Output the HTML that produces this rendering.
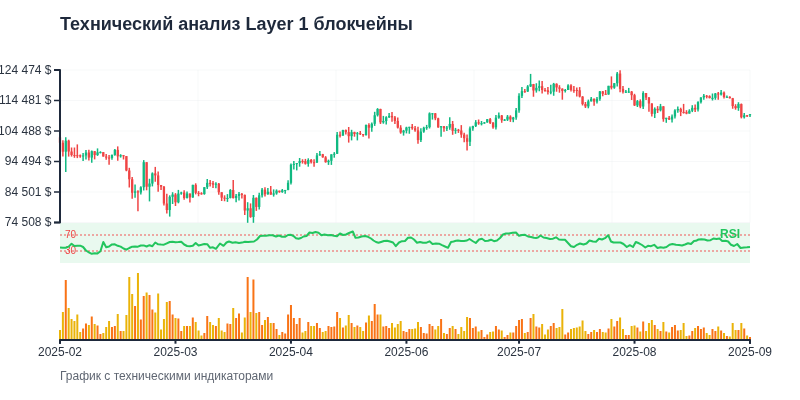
<!DOCTYPE html>
<html lang="ru">
<head>
<meta charset="utf-8">
<title>Технический анализ Layer 1 блокчейны</title>
<style>
html,body{margin:0;padding:0;background:#fff;}
body{width:800px;height:400px;overflow:hidden;font-family:"Liberation Sans",sans-serif;}
svg{display:block;}
text{font-family:"Liberation Sans",sans-serif;}
.title{font-size:18px;font-weight:700;fill:#1e293b;}
.cap{font-size:12px;fill:#5f6672;}
.ax text{font-size:12px;fill:#2a3340;}
.grid line{stroke:#e5e7eb;stroke-opacity:.3;stroke-width:1;}
.dom{fill:none;stroke:#1e293b;stroke-width:2;stroke-linejoin:round;}
.tk{stroke:#1e293b;stroke-width:1.5;}
.tx{stroke:#1e293b;stroke-width:2;}
.g line{stroke:#10b981;} .g rect{fill:#10b981;}
.r line{stroke:#ef4444;} .r rect{fill:#ef4444;}
.o{fill:#f97316;}
.y{fill:#eab308;}
.lvl{stroke:#ef4444;stroke-width:1.5;stroke-dasharray:2 2;opacity:.6;}
.lvt{font-size:10px;fill:#ef4444;}
.rsi{fill:none;stroke:#22c55e;stroke-width:2;stroke-linejoin:round;stroke-linecap:butt;}
.rsil{font-size:12px;font-weight:700;fill:#22c55e;}
</style>
</head>
<body>
<svg width="800" height="400" viewBox="0 0 800 400">
<rect width="800" height="400" fill="#ffffff"/>
<text class="title" x="60" y="30">Технический анализ Layer 1 блокчейны</text>
<g class="grid">
<line x1="60" x2="750" y1="70" y2="70"/>
<line x1="60" x2="750" y1="100.5" y2="100.5"/>
<line x1="60" x2="750" y1="131" y2="131"/>
<line x1="60" x2="750" y1="161.5" y2="161.5"/>
<line x1="60" x2="750" y1="192" y2="192"/>
<line x1="60" x2="750" y1="222.5" y2="222.5"/>
<line x1="60" x2="60" y1="70" y2="222.5"/>
<line x1="198" x2="198" y1="70" y2="222.5"/>
<line x1="336" x2="336" y1="70" y2="222.5"/>
<line x1="474" x2="474" y1="70" y2="222.5"/>
<line x1="612" x2="612" y1="70" y2="222.5"/>
<line x1="750" x2="750" y1="70" y2="222.5"/>
</g>
<rect x="60" y="223" width="690" height="40" fill="#e9f9ef"/>
<g class="candles">
<g class="r"><line x1="60" x2="60" y1="137.28" y2="143" stroke-width="1.5"/><rect x="58.85" y="137.28" width="2.3" height="5.48"/></g>
<g class="r"><line x1="62.89" x2="62.89" y1="140.3" y2="156.6" stroke-width="1.5"/><rect x="61.74" y="142.76" width="2.3" height="8.96"/></g>
<g class="g"><line x1="65.77" x2="65.77" y1="137.2" y2="171.9" stroke-width="1.5"/><rect x="64.62" y="140.64" width="2.3" height="11.08"/></g>
<g class="r"><line x1="68.66" x2="68.66" y1="139.7" y2="156.6" stroke-width="1.5"/><rect x="67.51" y="140.64" width="2.3" height="10.88"/></g>
<g class="r"><line x1="71.55" x2="71.55" y1="147.5" y2="156.6" stroke-width="1.5"/><rect x="70.4" y="151.52" width="2.3" height="3.52"/></g>
<g class="r"><line x1="74.44" x2="74.44" y1="147.5" y2="157.8" stroke-width="1.5"/><rect x="73.29" y="155.04" width="2.3" height="1"/></g>
<g class="r"><line x1="77.32" x2="77.32" y1="144.4" y2="158.1" stroke-width="1.5"/><rect x="76.17" y="155.21" width="2.3" height="1"/></g>
<g class="r"><line x1="80.21" x2="80.21" y1="154.4" y2="157.8" stroke-width="1.5"/><rect x="79.06" y="155.36" width="2.3" height="1"/></g>
<g class="g"><line x1="83.1" x2="83.1" y1="153.1" y2="160.9" stroke-width="1.5"/><rect x="81.95" y="155.49" width="2.3" height="1"/></g>
<g class="g"><line x1="85.98" x2="85.98" y1="150" y2="159.4" stroke-width="1.5"/><rect x="84.83" y="152.54" width="2.3" height="2.95"/></g>
<g class="r"><line x1="88.87" x2="88.87" y1="149.7" y2="160.6" stroke-width="1.5"/><rect x="87.72" y="152.54" width="2.3" height="5.04"/></g>
<g class="g"><line x1="91.76" x2="91.76" y1="150.6" y2="162.8" stroke-width="1.5"/><rect x="90.61" y="151.2" width="2.3" height="6.38"/></g>
<g class="r"><line x1="94.64" x2="94.64" y1="151" y2="159.4" stroke-width="1.5"/><rect x="93.49" y="151.2" width="2.3" height="3.85"/></g>
<g class="g"><line x1="97.53" x2="97.53" y1="148.4" y2="155.9" stroke-width="1.5"/><rect x="96.38" y="152.33" width="2.3" height="2.72"/></g>
<g class="g"><line x1="100.42" x2="100.42" y1="151.25" y2="153.4" stroke-width="1.5"/><rect x="99.27" y="152.12" width="2.3" height="1"/></g>
<g class="r"><line x1="103.31" x2="103.31" y1="152.12" y2="156.6" stroke-width="1.5"/><rect x="102.16" y="152.12" width="2.3" height="4.42"/></g>
<g class="r"><line x1="106.19" x2="106.19" y1="154.1" y2="159.7" stroke-width="1.5"/><rect x="105.04" y="156.54" width="2.3" height="1.04"/></g>
<g class="r"><line x1="109.08" x2="109.08" y1="155.1" y2="164.75" stroke-width="1.5"/><rect x="107.93" y="157.58" width="2.3" height="1"/></g>
<g class="g"><line x1="111.97" x2="111.97" y1="154.5" y2="159.8" stroke-width="1.5"/><rect x="110.82" y="154.94" width="2.3" height="2.97"/></g>
<g class="g"><line x1="114.85" x2="114.85" y1="148.9" y2="155.75" stroke-width="1.5"/><rect x="113.7" y="149.87" width="2.3" height="5.07"/></g>
<g class="r"><line x1="117.74" x2="117.74" y1="146.4" y2="160.75" stroke-width="1.5"/><rect x="116.59" y="149.87" width="2.3" height="6.48"/></g>
<g class="g"><line x1="120.63" x2="120.63" y1="154.2" y2="157.6" stroke-width="1.5"/><rect x="119.48" y="155.22" width="2.3" height="1.13"/></g>
<g class="r"><line x1="123.51" x2="123.51" y1="155.1" y2="159.5" stroke-width="1.5"/><rect x="122.36" y="155.22" width="2.3" height="1"/></g>
<g class="r"><line x1="126.4" x2="126.4" y1="156.1" y2="171.25" stroke-width="1.5"/><rect x="125.25" y="156.12" width="2.3" height="14.36"/></g>
<g class="r"><line x1="129.29" x2="129.29" y1="167.8" y2="187.5" stroke-width="1.5"/><rect x="128.14" y="170.48" width="2.3" height="8.77"/></g>
<g class="r"><line x1="132.18" x2="132.18" y1="176.9" y2="198.75" stroke-width="1.5"/><rect x="131.03" y="179.25" width="2.3" height="13.52"/></g>
<g class="g"><line x1="135.06" x2="135.06" y1="184.4" y2="197.8" stroke-width="1.5"/><rect x="133.91" y="191.37" width="2.3" height="1.4"/></g>
<g class="r"><line x1="137.95" x2="137.95" y1="190.3" y2="211.25" stroke-width="1.5"/><rect x="136.8" y="191.37" width="2.3" height="1.09"/></g>
<g class="g"><line x1="140.84" x2="140.84" y1="186.25" y2="194.4" stroke-width="1.5"/><rect x="139.69" y="187.23" width="2.3" height="5.23"/></g>
<g class="g"><line x1="143.72" x2="143.72" y1="160.1" y2="190.5" stroke-width="1.5"/><rect x="142.57" y="162.18" width="2.3" height="25.05"/></g>
<g class="r"><line x1="146.61" x2="146.61" y1="162.18" y2="190.3" stroke-width="1.5"/><rect x="145.46" y="162.18" width="2.3" height="24.57"/></g>
<g class="g"><line x1="149.5" x2="149.5" y1="178.75" y2="201.4" stroke-width="1.5"/><rect x="148.35" y="183.52" width="2.3" height="3.23"/></g>
<g class="g"><line x1="152.38" x2="152.38" y1="172.4" y2="186.4" stroke-width="1.5"/><rect x="151.23" y="173.37" width="2.3" height="10.15"/></g>
<g class="r"><line x1="155.27" x2="155.27" y1="166.9" y2="181.75" stroke-width="1.5"/><rect x="154.12" y="173.37" width="2.3" height="2.06"/></g>
<g class="r"><line x1="158.16" x2="158.16" y1="171.4" y2="191.75" stroke-width="1.5"/><rect x="157.01" y="175.43" width="2.3" height="9.55"/></g>
<g class="r"><line x1="161.05" x2="161.05" y1="184.98" y2="189.9" stroke-width="1.5"/><rect x="159.9" y="184.98" width="2.3" height="1.77"/></g>
<g class="r"><line x1="163.93" x2="163.93" y1="186.1" y2="205.6" stroke-width="1.5"/><rect x="162.78" y="186.75" width="2.3" height="16.75"/></g>
<g class="r"><line x1="166.82" x2="166.82" y1="193.75" y2="213.5" stroke-width="1.5"/><rect x="165.67" y="203.5" width="2.3" height="6.53"/></g>
<g class="g"><line x1="169.71" x2="169.71" y1="195.3" y2="216.6" stroke-width="1.5"/><rect x="168.56" y="196.79" width="2.3" height="13.24"/></g>
<g class="g"><line x1="172.59" x2="172.59" y1="192.2" y2="204" stroke-width="1.5"/><rect x="171.44" y="194.51" width="2.3" height="2.28"/></g>
<g class="r"><line x1="175.48" x2="175.48" y1="193.1" y2="206" stroke-width="1.5"/><rect x="174.33" y="194.51" width="2.3" height="7.82"/></g>
<g class="g"><line x1="178.37" x2="178.37" y1="189.9" y2="203.3" stroke-width="1.5"/><rect x="177.22" y="193.58" width="2.3" height="8.75"/></g>
<g class="g"><line x1="181.26" x2="181.26" y1="191.75" y2="194.7" stroke-width="1.5"/><rect x="180.11" y="192.5" width="2.3" height="1.08"/></g>
<g class="r"><line x1="184.14" x2="184.14" y1="190.2" y2="199.7" stroke-width="1.5"/><rect x="182.99" y="192.5" width="2.3" height="5.46"/></g>
<g class="g"><line x1="187.03" x2="187.03" y1="191.5" y2="198.4" stroke-width="1.5"/><rect x="185.88" y="193.5" width="2.3" height="4.46"/></g>
<g class="r"><line x1="189.92" x2="189.92" y1="193.5" y2="202.5" stroke-width="1.5"/><rect x="188.77" y="193.5" width="2.3" height="3.95"/></g>
<g class="g"><line x1="192.8" x2="192.8" y1="184.85" y2="197.8" stroke-width="1.5"/><rect x="191.65" y="184.85" width="2.3" height="12.6"/></g>
<g class="r"><line x1="195.69" x2="195.69" y1="183.3" y2="194.4" stroke-width="1.5"/><rect x="194.54" y="184.85" width="2.3" height="8"/></g>
<g class="r"><line x1="198.58" x2="198.58" y1="191.1" y2="196.25" stroke-width="1.5"/><rect x="197.43" y="192.85" width="2.3" height="1"/></g>
<g class="r"><line x1="201.46" x2="201.46" y1="192.2" y2="194.75" stroke-width="1.5"/><rect x="200.31" y="193.26" width="2.3" height="1"/></g>
<g class="g"><line x1="204.35" x2="204.35" y1="187.18" y2="194.75" stroke-width="1.5"/><rect x="203.2" y="187.18" width="2.3" height="6.84"/></g>
<g class="g"><line x1="207.24" x2="207.24" y1="179.1" y2="189.1" stroke-width="1.5"/><rect x="206.09" y="182.85" width="2.3" height="4.33"/></g>
<g class="r"><line x1="210.13" x2="210.13" y1="180" y2="186.6" stroke-width="1.5"/><rect x="208.98" y="182.85" width="2.3" height="1"/></g>
<g class="r"><line x1="213.01" x2="213.01" y1="181" y2="187.9" stroke-width="1.5"/><rect x="211.86" y="183.18" width="2.3" height="1.47"/></g>
<g class="g"><line x1="215.9" x2="215.9" y1="182.25" y2="188.2" stroke-width="1.5"/><rect x="214.75" y="183.67" width="2.3" height="1"/></g>
<g class="r"><line x1="218.79" x2="218.79" y1="182.9" y2="194.75" stroke-width="1.5"/><rect x="217.64" y="183.67" width="2.3" height="8.57"/></g>
<g class="r"><line x1="221.67" x2="221.67" y1="192.2" y2="201" stroke-width="1.5"/><rect x="220.52" y="192.24" width="2.3" height="5.42"/></g>
<g class="r"><line x1="224.56" x2="224.56" y1="195.3" y2="201.25" stroke-width="1.5"/><rect x="223.41" y="197.66" width="2.3" height="1"/></g>
<g class="g"><line x1="227.45" x2="227.45" y1="194.1" y2="201.9" stroke-width="1.5"/><rect x="226.3" y="197.96" width="2.3" height="1"/></g>
<g class="g"><line x1="230.33" x2="230.33" y1="189.1" y2="198.4" stroke-width="1.5"/><rect x="229.18" y="190" width="2.3" height="7.96"/></g>
<g class="r"><line x1="233.22" x2="233.22" y1="180" y2="198.4" stroke-width="1.5"/><rect x="232.07" y="190" width="2.3" height="8.06"/></g>
<g class="g"><line x1="236.11" x2="236.11" y1="194.1" y2="202.2" stroke-width="1.5"/><rect x="234.96" y="195.93" width="2.3" height="2.13"/></g>
<g class="g"><line x1="239" x2="239" y1="191.9" y2="200.6" stroke-width="1.5"/><rect x="237.85" y="193.87" width="2.3" height="2.06"/></g>
<g class="r"><line x1="241.88" x2="241.88" y1="193.1" y2="198.4" stroke-width="1.5"/><rect x="240.73" y="193.87" width="2.3" height="1.07"/></g>
<g class="r"><line x1="244.77" x2="244.77" y1="194.4" y2="215" stroke-width="1.5"/><rect x="243.62" y="194.94" width="2.3" height="15.59"/></g>
<g class="g"><line x1="247.66" x2="247.66" y1="202.2" y2="222.8" stroke-width="1.5"/><rect x="246.51" y="208.29" width="2.3" height="2.24"/></g>
<g class="r"><line x1="250.54" x2="250.54" y1="203.4" y2="217.8" stroke-width="1.5"/><rect x="249.39" y="208.29" width="2.3" height="8.67"/></g>
<g class="g"><line x1="253.43" x2="253.43" y1="195" y2="222.8" stroke-width="1.5"/><rect x="252.28" y="197.76" width="2.3" height="19.2"/></g>
<g class="r"><line x1="256.32" x2="256.32" y1="197.5" y2="210.9" stroke-width="1.5"/><rect x="255.17" y="197.76" width="2.3" height="9.18"/></g>
<g class="g"><line x1="259.21" x2="259.21" y1="192.8" y2="209.4" stroke-width="1.5"/><rect x="258.06" y="195.29" width="2.3" height="11.65"/></g>
<g class="g"><line x1="262.09" x2="262.09" y1="188.1" y2="197.5" stroke-width="1.5"/><rect x="260.94" y="189.64" width="2.3" height="5.65"/></g>
<g class="r"><line x1="264.98" x2="264.98" y1="187.2" y2="196.6" stroke-width="1.5"/><rect x="263.83" y="189.64" width="2.3" height="4.62"/></g>
<g class="g"><line x1="267.87" x2="267.87" y1="188.1" y2="194.7" stroke-width="1.5"/><rect x="266.72" y="191.73" width="2.3" height="2.53"/></g>
<g class="r"><line x1="270.75" x2="270.75" y1="185.9" y2="194.7" stroke-width="1.5"/><rect x="269.6" y="191.73" width="2.3" height="2.89"/></g>
<g class="g"><line x1="273.64" x2="273.64" y1="189.4" y2="196.6" stroke-width="1.5"/><rect x="272.49" y="193.44" width="2.3" height="1.18"/></g>
<g class="g"><line x1="276.53" x2="276.53" y1="189.4" y2="194.7" stroke-width="1.5"/><rect x="275.38" y="190.64" width="2.3" height="2.8"/></g>
<g class="r"><line x1="279.41" x2="279.41" y1="190.6" y2="192.8" stroke-width="1.5"/><rect x="278.26" y="190.64" width="2.3" height="1.44"/></g>
<g class="g"><line x1="282.3" x2="282.3" y1="189" y2="192.8" stroke-width="1.5"/><rect x="281.15" y="190.24" width="2.3" height="1.84"/></g>
<g class="g"><line x1="285.19" x2="285.19" y1="189.93" y2="193.75" stroke-width="1.5"/><rect x="284.04" y="189.93" width="2.3" height="1"/></g>
<g class="g"><line x1="288.08" x2="288.08" y1="180.3" y2="190.3" stroke-width="1.5"/><rect x="286.93" y="182.8" width="2.3" height="7.13"/></g>
<g class="g"><line x1="290.96" x2="290.96" y1="163.6" y2="184.4" stroke-width="1.5"/><rect x="289.81" y="164.71" width="2.3" height="18.09"/></g>
<g class="g"><line x1="293.85" x2="293.85" y1="161.1" y2="169.5" stroke-width="1.5"/><rect x="292.7" y="163.95" width="2.3" height="1"/></g>
<g class="g"><line x1="296.74" x2="296.74" y1="163" y2="170.4" stroke-width="1.5"/><rect x="295.59" y="163.07" width="2.3" height="1"/></g>
<g class="g"><line x1="299.62" x2="299.62" y1="158" y2="166.7" stroke-width="1.5"/><rect x="298.47" y="161.06" width="2.3" height="2.01"/></g>
<g class="r"><line x1="302.51" x2="302.51" y1="159.25" y2="163.6" stroke-width="1.5"/><rect x="301.36" y="161.06" width="2.3" height="1"/></g>
<g class="r"><line x1="305.4" x2="305.4" y1="158.9" y2="164.6" stroke-width="1.5"/><rect x="304.25" y="161.09" width="2.3" height="2.69"/></g>
<g class="g"><line x1="308.28" x2="308.28" y1="158.3" y2="166.7" stroke-width="1.5"/><rect x="307.13" y="159.92" width="2.3" height="3.86"/></g>
<g class="r"><line x1="311.17" x2="311.17" y1="158.9" y2="163.6" stroke-width="1.5"/><rect x="310.02" y="159.92" width="2.3" height="2.31"/></g>
<g class="r"><line x1="314.06" x2="314.06" y1="159.25" y2="166.7" stroke-width="1.5"/><rect x="312.91" y="162.23" width="2.3" height="1"/></g>
<g class="g"><line x1="316.95" x2="316.95" y1="153" y2="163" stroke-width="1.5"/><rect x="315.8" y="155.41" width="2.3" height="7.07"/></g>
<g class="g"><line x1="319.83" x2="319.83" y1="151.1" y2="155.8" stroke-width="1.5"/><rect x="318.68" y="154.2" width="2.3" height="1.21"/></g>
<g class="r"><line x1="322.72" x2="322.72" y1="153.9" y2="157.7" stroke-width="1.5"/><rect x="321.57" y="154.2" width="2.3" height="3.14"/></g>
<g class="r"><line x1="325.61" x2="325.61" y1="156.1" y2="162.7" stroke-width="1.5"/><rect x="324.46" y="157.34" width="2.3" height="4.82"/></g>
<g class="g"><line x1="328.49" x2="328.49" y1="159.6" y2="164.9" stroke-width="1.5"/><rect x="327.34" y="160.77" width="2.3" height="1.39"/></g>
<g class="g"><line x1="331.38" x2="331.38" y1="154.25" y2="164.9" stroke-width="1.5"/><rect x="330.23" y="154.36" width="2.3" height="6.41"/></g>
<g class="g"><line x1="334.27" x2="334.27" y1="152.1" y2="157.7" stroke-width="1.5"/><rect x="333.12" y="153.76" width="2.3" height="1"/></g>
<g class="g"><line x1="337.15" x2="337.15" y1="132" y2="153.9" stroke-width="1.5"/><rect x="336" y="134.74" width="2.3" height="19.02"/></g>
<g class="r"><line x1="340.04" x2="340.04" y1="131.4" y2="137.6" stroke-width="1.5"/><rect x="338.89" y="134.74" width="2.3" height="1"/></g>
<g class="g"><line x1="342.93" x2="342.93" y1="129.8" y2="135.75" stroke-width="1.5"/><rect x="341.78" y="130.02" width="2.3" height="5.61"/></g>
<g class="r"><line x1="345.82" x2="345.82" y1="129.5" y2="134.5" stroke-width="1.5"/><rect x="344.67" y="130.02" width="2.3" height="2.11"/></g>
<g class="r"><line x1="348.7" x2="348.7" y1="127" y2="142.6" stroke-width="1.5"/><rect x="347.55" y="132.13" width="2.3" height="4.05"/></g>
<g class="g"><line x1="351.59" x2="351.59" y1="129.8" y2="140.4" stroke-width="1.5"/><rect x="350.44" y="132.17" width="2.3" height="4.01"/></g>
<g class="r"><line x1="354.48" x2="354.48" y1="131.7" y2="136.7" stroke-width="1.5"/><rect x="353.33" y="132.17" width="2.3" height="1.82"/></g>
<g class="g"><line x1="357.36" x2="357.36" y1="132" y2="140.4" stroke-width="1.5"/><rect x="356.21" y="133.21" width="2.3" height="1"/></g>
<g class="r"><line x1="360.25" x2="360.25" y1="131" y2="135.1" stroke-width="1.5"/><rect x="359.1" y="133.21" width="2.3" height="1"/></g>
<g class="r"><line x1="363.14" x2="363.14" y1="133.9" y2="136.7" stroke-width="1.5"/><rect x="361.99" y="134.13" width="2.3" height="1.03"/></g>
<g class="g"><line x1="366.03" x2="366.03" y1="124.5" y2="135.4" stroke-width="1.5"/><rect x="364.88" y="125" width="2.3" height="10.16"/></g>
<g class="r"><line x1="368.91" x2="368.91" y1="123.2" y2="138.6" stroke-width="1.5"/><rect x="367.76" y="125" width="2.3" height="2.69"/></g>
<g class="g"><line x1="371.8" x2="371.8" y1="122.4" y2="131.7" stroke-width="1.5"/><rect x="370.65" y="123.79" width="2.3" height="3.9"/></g>
<g class="g"><line x1="374.69" x2="374.69" y1="111.8" y2="125.9" stroke-width="1.5"/><rect x="373.54" y="115.27" width="2.3" height="8.52"/></g>
<g class="g"><line x1="377.57" x2="377.57" y1="108.1" y2="116.5" stroke-width="1.5"/><rect x="376.42" y="109" width="2.3" height="6.27"/></g>
<g class="r"><line x1="380.46" x2="380.46" y1="108.7" y2="124" stroke-width="1.5"/><rect x="379.31" y="109" width="2.3" height="13.36"/></g>
<g class="g"><line x1="383.35" x2="383.35" y1="115.9" y2="123.7" stroke-width="1.5"/><rect x="382.2" y="121.01" width="2.3" height="1.35"/></g>
<g class="g"><line x1="386.23" x2="386.23" y1="116.2" y2="124.6" stroke-width="1.5"/><rect x="385.08" y="117.22" width="2.3" height="3.79"/></g>
<g class="g"><line x1="389.12" x2="389.12" y1="113.1" y2="118.1" stroke-width="1.5"/><rect x="387.97" y="115.9" width="2.3" height="1.32"/></g>
<g class="r"><line x1="392.01" x2="392.01" y1="112.1" y2="121.8" stroke-width="1.5"/><rect x="390.86" y="115.9" width="2.3" height="1.52"/></g>
<g class="r"><line x1="394.9" x2="394.9" y1="116.1" y2="123.9" stroke-width="1.5"/><rect x="393.75" y="117.42" width="2.3" height="3.53"/></g>
<g class="r"><line x1="397.78" x2="397.78" y1="117.4" y2="128.5" stroke-width="1.5"/><rect x="396.63" y="120.95" width="2.3" height="6.69"/></g>
<g class="r"><line x1="400.67" x2="400.67" y1="125.2" y2="133.75" stroke-width="1.5"/><rect x="399.52" y="127.64" width="2.3" height="4.89"/></g>
<g class="g"><line x1="403.56" x2="403.56" y1="129.9" y2="135.6" stroke-width="1.5"/><rect x="402.41" y="130.68" width="2.3" height="1.85"/></g>
<g class="g"><line x1="406.44" x2="406.44" y1="126.75" y2="133.4" stroke-width="1.5"/><rect x="405.29" y="127.48" width="2.3" height="3.2"/></g>
<g class="g"><line x1="409.33" x2="409.33" y1="126.75" y2="133.75" stroke-width="1.5"/><rect x="408.18" y="126.82" width="2.3" height="1"/></g>
<g class="r"><line x1="412.22" x2="412.22" y1="123.9" y2="129.8" stroke-width="1.5"/><rect x="411.07" y="126.82" width="2.3" height="1.47"/></g>
<g class="r"><line x1="415.1" x2="415.1" y1="126.1" y2="131.8" stroke-width="1.5"/><rect x="413.95" y="128.29" width="2.3" height="2.07"/></g>
<g class="r"><line x1="417.99" x2="417.99" y1="126.8" y2="143.75" stroke-width="1.5"/><rect x="416.84" y="130.36" width="2.3" height="9.73"/></g>
<g class="g"><line x1="420.88" x2="420.88" y1="128.2" y2="141.9" stroke-width="1.5"/><rect x="419.73" y="131.61" width="2.3" height="8.48"/></g>
<g class="g"><line x1="423.77" x2="423.77" y1="126.8" y2="132.8" stroke-width="1.5"/><rect x="422.62" y="127.75" width="2.3" height="3.86"/></g>
<g class="g"><line x1="426.65" x2="426.65" y1="124.9" y2="129.8" stroke-width="1.5"/><rect x="425.5" y="127.2" width="2.3" height="1"/></g>
<g class="g"><line x1="429.54" x2="429.54" y1="112.4" y2="128.5" stroke-width="1.5"/><rect x="428.39" y="113.37" width="2.3" height="13.83"/></g>
<g class="g"><line x1="432.43" x2="432.43" y1="113" y2="119.6" stroke-width="1.5"/><rect x="431.28" y="113.34" width="2.3" height="1"/></g>
<g class="r"><line x1="435.31" x2="435.31" y1="113" y2="120.2" stroke-width="1.5"/><rect x="434.16" y="113.34" width="2.3" height="4.97"/></g>
<g class="r"><line x1="438.2" x2="438.2" y1="117.8" y2="127.8" stroke-width="1.5"/><rect x="437.05" y="118.31" width="2.3" height="9.08"/></g>
<g class="g"><line x1="441.09" x2="441.09" y1="125.9" y2="136.7" stroke-width="1.5"/><rect x="439.94" y="126.18" width="2.3" height="1.21"/></g>
<g class="r"><line x1="443.97" x2="443.97" y1="126" y2="131.7" stroke-width="1.5"/><rect x="442.82" y="126.18" width="2.3" height="1.99"/></g>
<g class="g"><line x1="446.86" x2="446.86" y1="126" y2="131" stroke-width="1.5"/><rect x="445.71" y="127.62" width="2.3" height="1"/></g>
<g class="g"><line x1="449.75" x2="449.75" y1="117.3" y2="129.8" stroke-width="1.5"/><rect x="448.6" y="123.96" width="2.3" height="3.66"/></g>
<g class="r"><line x1="452.64" x2="452.64" y1="121" y2="134.8" stroke-width="1.5"/><rect x="451.49" y="123.96" width="2.3" height="6.85"/></g>
<g class="g"><line x1="455.52" x2="455.52" y1="127.9" y2="133.8" stroke-width="1.5"/><rect x="454.37" y="129.78" width="2.3" height="1.03"/></g>
<g class="r"><line x1="458.41" x2="458.41" y1="128.9" y2="132.9" stroke-width="1.5"/><rect x="457.26" y="129.78" width="2.3" height="1"/></g>
<g class="r"><line x1="461.3" x2="461.3" y1="125.1" y2="137.8" stroke-width="1.5"/><rect x="460.15" y="130.48" width="2.3" height="4.15"/></g>
<g class="r"><line x1="464.18" x2="464.18" y1="132.7" y2="142.2" stroke-width="1.5"/><rect x="463.03" y="134.63" width="2.3" height="3.6"/></g>
<g class="r"><line x1="467.07" x2="467.07" y1="134.4" y2="150.6" stroke-width="1.5"/><rect x="465.92" y="138.23" width="2.3" height="3.53"/></g>
<g class="g"><line x1="469.96" x2="469.96" y1="126.4" y2="145.9" stroke-width="1.5"/><rect x="468.81" y="128.42" width="2.3" height="13.34"/></g>
<g class="g"><line x1="472.85" x2="472.85" y1="125.75" y2="130.75" stroke-width="1.5"/><rect x="471.7" y="126.13" width="2.3" height="2.29"/></g>
<g class="g"><line x1="475.73" x2="475.73" y1="120.1" y2="127" stroke-width="1.5"/><rect x="474.58" y="122.29" width="2.3" height="3.84"/></g>
<g class="r"><line x1="478.62" x2="478.62" y1="119.5" y2="124.8" stroke-width="1.5"/><rect x="477.47" y="122.29" width="2.3" height="1.2"/></g>
<g class="g"><line x1="481.51" x2="481.51" y1="121" y2="125.4" stroke-width="1.5"/><rect x="480.36" y="123.19" width="2.3" height="1"/></g>
<g class="g"><line x1="484.39" x2="484.39" y1="122" y2="123.8" stroke-width="1.5"/><rect x="483.24" y="122.43" width="2.3" height="1"/></g>
<g class="g"><line x1="487.28" x2="487.28" y1="119" y2="122.7" stroke-width="1.5"/><rect x="486.13" y="119.19" width="2.3" height="3.24"/></g>
<g class="r"><line x1="490.17" x2="490.17" y1="118.1" y2="124" stroke-width="1.5"/><rect x="489.02" y="119.19" width="2.3" height="3.7"/></g>
<g class="r"><line x1="493.05" x2="493.05" y1="121.9" y2="128.75" stroke-width="1.5"/><rect x="491.9" y="122.89" width="2.3" height="4.47"/></g>
<g class="g"><line x1="495.94" x2="495.94" y1="115" y2="129.4" stroke-width="1.5"/><rect x="494.79" y="117.69" width="2.3" height="9.67"/></g>
<g class="g"><line x1="498.83" x2="498.83" y1="112.5" y2="118.75" stroke-width="1.5"/><rect x="497.68" y="115.45" width="2.3" height="2.24"/></g>
<g class="r"><line x1="501.72" x2="501.72" y1="115" y2="122.8" stroke-width="1.5"/><rect x="500.57" y="115.45" width="2.3" height="4.88"/></g>
<g class="g"><line x1="504.6" x2="504.6" y1="119" y2="121" stroke-width="1.5"/><rect x="503.45" y="119.68" width="2.3" height="1"/></g>
<g class="g"><line x1="507.49" x2="507.49" y1="115" y2="121" stroke-width="1.5"/><rect x="506.34" y="116.61" width="2.3" height="3.07"/></g>
<g class="r"><line x1="510.38" x2="510.38" y1="115.3" y2="121.9" stroke-width="1.5"/><rect x="509.23" y="116.61" width="2.3" height="2.87"/></g>
<g class="g"><line x1="513.26" x2="513.26" y1="116.9" y2="122.2" stroke-width="1.5"/><rect x="512.11" y="117.47" width="2.3" height="2.01"/></g>
<g class="g"><line x1="516.15" x2="516.15" y1="108.1" y2="119.7" stroke-width="1.5"/><rect x="515" y="110.41" width="2.3" height="7.06"/></g>
<g class="g"><line x1="519.04" x2="519.04" y1="93.3" y2="112.8" stroke-width="1.5"/><rect x="517.89" y="95.83" width="2.3" height="14.58"/></g>
<g class="g"><line x1="521.92" x2="521.92" y1="87" y2="98" stroke-width="1.5"/><rect x="520.77" y="91.2" width="2.3" height="4.63"/></g>
<g class="r"><line x1="524.81" x2="524.81" y1="88.9" y2="92.8" stroke-width="1.5"/><rect x="523.66" y="91.2" width="2.3" height="1"/></g>
<g class="g"><line x1="527.7" x2="527.7" y1="85.1" y2="91.9" stroke-width="1.5"/><rect x="526.55" y="86.44" width="2.3" height="5.09"/></g>
<g class="g"><line x1="530.59" x2="530.59" y1="73.9" y2="87" stroke-width="1.5"/><rect x="529.44" y="84.14" width="2.3" height="2.3"/></g>
<g class="r"><line x1="533.47" x2="533.47" y1="83.9" y2="96.75" stroke-width="1.5"/><rect x="532.32" y="84.14" width="2.3" height="6.36"/></g>
<g class="g"><line x1="536.36" x2="536.36" y1="83.25" y2="92.6" stroke-width="1.5"/><rect x="535.21" y="87.84" width="2.3" height="2.66"/></g>
<g class="g"><line x1="539.25" x2="539.25" y1="80.4" y2="91.2" stroke-width="1.5"/><rect x="538.1" y="86.17" width="2.3" height="1.67"/></g>
<g class="r"><line x1="542.13" x2="542.13" y1="81" y2="93.6" stroke-width="1.5"/><rect x="540.98" y="86.17" width="2.3" height="3.82"/></g>
<g class="r"><line x1="545.02" x2="545.02" y1="87.9" y2="91.7" stroke-width="1.5"/><rect x="543.87" y="89.99" width="2.3" height="1"/></g>
<g class="r"><line x1="547.91" x2="547.91" y1="87" y2="94.5" stroke-width="1.5"/><rect x="546.76" y="90.25" width="2.3" height="1.75"/></g>
<g class="g"><line x1="550.79" x2="550.79" y1="84.8" y2="94.2" stroke-width="1.5"/><rect x="549.64" y="91.65" width="2.3" height="1"/></g>
<g class="g"><line x1="553.68" x2="553.68" y1="82.9" y2="95.75" stroke-width="1.5"/><rect x="552.53" y="83.8" width="2.3" height="7.85"/></g>
<g class="r"><line x1="556.57" x2="556.57" y1="83.3" y2="91.75" stroke-width="1.5"/><rect x="555.42" y="83.8" width="2.3" height="3.65"/></g>
<g class="r"><line x1="559.46" x2="559.46" y1="85.2" y2="92.7" stroke-width="1.5"/><rect x="558.31" y="87.45" width="2.3" height="1.27"/></g>
<g class="r"><line x1="562.34" x2="562.34" y1="88.3" y2="99.7" stroke-width="1.5"/><rect x="561.19" y="88.72" width="2.3" height="2.22"/></g>
<g class="g"><line x1="565.23" x2="565.23" y1="88.9" y2="92.4" stroke-width="1.5"/><rect x="564.08" y="90.01" width="2.3" height="1"/></g>
<g class="g"><line x1="568.12" x2="568.12" y1="84.25" y2="90.01" stroke-width="1.5"/><rect x="566.97" y="85.44" width="2.3" height="4.57"/></g>
<g class="r"><line x1="571" x2="571" y1="84.25" y2="91.4" stroke-width="1.5"/><rect x="569.85" y="85.44" width="2.3" height="4.47"/></g>
<g class="r"><line x1="573.89" x2="573.89" y1="86.1" y2="92.7" stroke-width="1.5"/><rect x="572.74" y="89.91" width="2.3" height="1"/></g>
<g class="r"><line x1="576.78" x2="576.78" y1="87.4" y2="96.5" stroke-width="1.5"/><rect x="575.63" y="90" width="2.3" height="1"/></g>
<g class="r"><line x1="579.67" x2="579.67" y1="87.1" y2="97.4" stroke-width="1.5"/><rect x="578.52" y="90.27" width="2.3" height="6.31"/></g>
<g class="r"><line x1="582.55" x2="582.55" y1="96.1" y2="105.5" stroke-width="1.5"/><rect x="581.4" y="96.58" width="2.3" height="7.53"/></g>
<g class="r"><line x1="585.44" x2="585.44" y1="102" y2="108" stroke-width="1.5"/><rect x="584.29" y="104.11" width="2.3" height="2.3"/></g>
<g class="g"><line x1="588.33" x2="588.33" y1="99.6" y2="108.3" stroke-width="1.5"/><rect x="587.18" y="101.33" width="2.3" height="5.08"/></g>
<g class="g"><line x1="591.21" x2="591.21" y1="97.1" y2="101.4" stroke-width="1.5"/><rect x="590.06" y="98.75" width="2.3" height="2.58"/></g>
<g class="r"><line x1="594.1" x2="594.1" y1="98.6" y2="105.8" stroke-width="1.5"/><rect x="592.95" y="98.75" width="2.3" height="2.82"/></g>
<g class="g"><line x1="596.99" x2="596.99" y1="97.1" y2="103.6" stroke-width="1.5"/><rect x="595.84" y="98.85" width="2.3" height="2.72"/></g>
<g class="g"><line x1="599.87" x2="599.87" y1="91.1" y2="100.8" stroke-width="1.5"/><rect x="598.72" y="91.4" width="2.3" height="7.45"/></g>
<g class="r"><line x1="602.76" x2="602.76" y1="91" y2="96.3" stroke-width="1.5"/><rect x="601.61" y="91.4" width="2.3" height="2.4"/></g>
<g class="r"><line x1="605.65" x2="605.65" y1="90" y2="94.75" stroke-width="1.5"/><rect x="604.5" y="93.8" width="2.3" height="1"/></g>
<g class="g"><line x1="608.54" x2="608.54" y1="85.81" y2="94.75" stroke-width="1.5"/><rect x="607.39" y="85.81" width="2.3" height="8.64"/></g>
<g class="r"><line x1="611.42" x2="611.42" y1="76.4" y2="89.4" stroke-width="1.5"/><rect x="610.27" y="85.81" width="2.3" height="1.86"/></g>
<g class="g"><line x1="614.31" x2="614.31" y1="83" y2="88.8" stroke-width="1.5"/><rect x="613.16" y="83.25" width="2.3" height="4.42"/></g>
<g class="g"><line x1="617.2" x2="617.2" y1="72.1" y2="86.6" stroke-width="1.5"/><rect x="616.05" y="73.56" width="2.3" height="9.69"/></g>
<g class="r"><line x1="620.08" x2="620.08" y1="70.2" y2="92.25" stroke-width="1.5"/><rect x="618.93" y="73.56" width="2.3" height="15.3"/></g>
<g class="r"><line x1="622.97" x2="622.97" y1="86.1" y2="93.5" stroke-width="1.5"/><rect x="621.82" y="88.86" width="2.3" height="2.91"/></g>
<g class="g"><line x1="625.86" x2="625.86" y1="90.1" y2="92.9" stroke-width="1.5"/><rect x="624.71" y="91.65" width="2.3" height="1"/></g>
<g class="g"><line x1="628.74" x2="628.74" y1="87.9" y2="92.9" stroke-width="1.5"/><rect x="627.59" y="91.58" width="2.3" height="1"/></g>
<g class="r"><line x1="631.63" x2="631.63" y1="91" y2="100" stroke-width="1.5"/><rect x="630.48" y="91.58" width="2.3" height="3.59"/></g>
<g class="r"><line x1="634.52" x2="634.52" y1="93.8" y2="106" stroke-width="1.5"/><rect x="633.37" y="95.17" width="2.3" height="10.24"/></g>
<g class="g"><line x1="637.41" x2="637.41" y1="100" y2="107" stroke-width="1.5"/><rect x="636.26" y="101.14" width="2.3" height="4.27"/></g>
<g class="r"><line x1="640.29" x2="640.29" y1="99.4" y2="108.2" stroke-width="1.5"/><rect x="639.14" y="101.14" width="2.3" height="5.41"/></g>
<g class="g"><line x1="643.18" x2="643.18" y1="91.3" y2="109.1" stroke-width="1.5"/><rect x="642.03" y="93.01" width="2.3" height="13.54"/></g>
<g class="r"><line x1="646.07" x2="646.07" y1="92.9" y2="100" stroke-width="1.5"/><rect x="644.92" y="93.01" width="2.3" height="4.57"/></g>
<g class="r"><line x1="648.95" x2="648.95" y1="96.9" y2="111.75" stroke-width="1.5"/><rect x="647.8" y="97.58" width="2.3" height="5.93"/></g>
<g class="r"><line x1="651.84" x2="651.84" y1="103.3" y2="116.4" stroke-width="1.5"/><rect x="650.69" y="103.51" width="2.3" height="10.33"/></g>
<g class="g"><line x1="654.73" x2="654.73" y1="107.4" y2="118" stroke-width="1.5"/><rect x="653.58" y="108.79" width="2.3" height="5.05"/></g>
<g class="r"><line x1="657.62" x2="657.62" y1="106.1" y2="113" stroke-width="1.5"/><rect x="656.47" y="108.79" width="2.3" height="1.53"/></g>
<g class="g"><line x1="660.5" x2="660.5" y1="103.9" y2="111.4" stroke-width="1.5"/><rect x="659.35" y="106.34" width="2.3" height="3.98"/></g>
<g class="r"><line x1="663.39" x2="663.39" y1="106.1" y2="121.75" stroke-width="1.5"/><rect x="662.24" y="106.34" width="2.3" height="12.79"/></g>
<g class="g"><line x1="666.28" x2="666.28" y1="117.79" y2="122.8" stroke-width="1.5"/><rect x="665.13" y="117.79" width="2.3" height="1.34"/></g>
<g class="r"><line x1="669.16" x2="669.16" y1="116.1" y2="119.9" stroke-width="1.5"/><rect x="668.01" y="117.79" width="2.3" height="1.74"/></g>
<g class="g"><line x1="672.05" x2="672.05" y1="114.6" y2="122.5" stroke-width="1.5"/><rect x="670.9" y="116.5" width="2.3" height="3.03"/></g>
<g class="g"><line x1="674.94" x2="674.94" y1="109.25" y2="118.6" stroke-width="1.5"/><rect x="673.79" y="110.39" width="2.3" height="6.11"/></g>
<g class="g"><line x1="677.82" x2="677.82" y1="106.4" y2="112.7" stroke-width="1.5"/><rect x="676.67" y="108.97" width="2.3" height="1.42"/></g>
<g class="r"><line x1="680.71" x2="680.71" y1="107.7" y2="116.1" stroke-width="1.5"/><rect x="679.56" y="108.97" width="2.3" height="2.98"/></g>
<g class="r"><line x1="683.6" x2="683.6" y1="103.9" y2="113.6" stroke-width="1.5"/><rect x="682.45" y="111.95" width="2.3" height="1"/></g>
<g class="r"><line x1="686.49" x2="686.49" y1="110.2" y2="114.25" stroke-width="1.5"/><rect x="685.34" y="112.16" width="2.3" height="1.45"/></g>
<g class="g"><line x1="689.37" x2="689.37" y1="109.25" y2="113.61" stroke-width="1.5"/><rect x="688.22" y="110.71" width="2.3" height="2.9"/></g>
<g class="g"><line x1="692.26" x2="692.26" y1="105.2" y2="112.1" stroke-width="1.5"/><rect x="691.11" y="107.87" width="2.3" height="2.84"/></g>
<g class="r"><line x1="695.15" x2="695.15" y1="104.4" y2="111.9" stroke-width="1.5"/><rect x="694" y="107.87" width="2.3" height="1.59"/></g>
<g class="g"><line x1="698.03" x2="698.03" y1="101.25" y2="111.6" stroke-width="1.5"/><rect x="696.88" y="102.09" width="2.3" height="7.37"/></g>
<g class="g"><line x1="700.92" x2="700.92" y1="97.2" y2="103.4" stroke-width="1.5"/><rect x="699.77" y="97.44" width="2.3" height="4.65"/></g>
<g class="g"><line x1="703.81" x2="703.81" y1="94" y2="99.7" stroke-width="1.5"/><rect x="702.66" y="95.77" width="2.3" height="1.67"/></g>
<g class="r"><line x1="706.69" x2="706.69" y1="95" y2="98.4" stroke-width="1.5"/><rect x="705.54" y="95.77" width="2.3" height="1"/></g>
<g class="r"><line x1="709.58" x2="709.58" y1="95.3" y2="98.4" stroke-width="1.5"/><rect x="708.43" y="96.11" width="2.3" height="1.99"/></g>
<g class="g"><line x1="712.47" x2="712.47" y1="93.5" y2="100.5" stroke-width="1.5"/><rect x="711.32" y="97.85" width="2.3" height="1"/></g>
<g class="g"><line x1="715.36" x2="715.36" y1="93" y2="99.75" stroke-width="1.5"/><rect x="714.21" y="93.46" width="2.3" height="4.39"/></g>
<g class="r"><line x1="718.24" x2="718.24" y1="92.1" y2="99.75" stroke-width="1.5"/><rect x="717.09" y="93.46" width="2.3" height="1.04"/></g>
<g class="g"><line x1="721.13" x2="721.13" y1="90.1" y2="95.5" stroke-width="1.5"/><rect x="719.98" y="92.59" width="2.3" height="1.91"/></g>
<g class="r"><line x1="724.02" x2="724.02" y1="91.5" y2="98.5" stroke-width="1.5"/><rect x="722.87" y="92.59" width="2.3" height="4.4"/></g>
<g class="g"><line x1="726.9" x2="726.9" y1="95.5" y2="97.7" stroke-width="1.5"/><rect x="725.75" y="96.82" width="2.3" height="1"/></g>
<g class="r"><line x1="729.79" x2="729.79" y1="96.3" y2="98.5" stroke-width="1.5"/><rect x="728.64" y="96.82" width="2.3" height="1.39"/></g>
<g class="r"><line x1="732.68" x2="732.68" y1="97.9" y2="108.75" stroke-width="1.5"/><rect x="731.53" y="98.21" width="2.3" height="7.88"/></g>
<g class="r"><line x1="735.56" x2="735.56" y1="104.2" y2="109.7" stroke-width="1.5"/><rect x="734.41" y="106.09" width="2.3" height="1.99"/></g>
<g class="g"><line x1="738.45" x2="738.45" y1="102.2" y2="110.8" stroke-width="1.5"/><rect x="737.3" y="104.08" width="2.3" height="4"/></g>
<g class="r"><line x1="741.34" x2="741.34" y1="103.5" y2="118.4" stroke-width="1.5"/><rect x="740.19" y="104.08" width="2.3" height="13.17"/></g>
<g class="g"><line x1="744.23" x2="744.23" y1="113.1" y2="118.4" stroke-width="1.5"/><rect x="743.08" y="115.27" width="2.3" height="1.98"/></g>
<g class="r"><line x1="747.11" x2="747.11" y1="115" y2="116.9" stroke-width="1.5"/><rect x="745.96" y="115.27" width="2.3" height="1"/></g>
<g class="g"><line x1="750" x2="750" y1="114.1" y2="116.9" stroke-width="1.5"/><rect x="748.85" y="114.18" width="2.3" height="1.11"/></g>
</g>
<g class="vol">
<rect class="y" x="59" y="330" width="2.0" height="10"/>
<rect class="y" x="61.89" y="312" width="2.0" height="28"/>
<rect class="o" x="64.77" y="280" width="2.0" height="60"/>
<rect class="y" x="67.66" y="308" width="2.0" height="32"/>
<rect class="y" x="70.55" y="319" width="2.0" height="21"/>
<rect class="y" x="73.44" y="321" width="2.0" height="19"/>
<rect class="y" x="76.32" y="314.5" width="2.0" height="25.5"/>
<rect class="y" x="79.21" y="332" width="2.0" height="8"/>
<rect class="o" x="82.1" y="328.5" width="2.0" height="11.5"/>
<rect class="o" x="84.98" y="323.5" width="2.0" height="16.5"/>
<rect class="y" x="87.87" y="325" width="2.0" height="15"/>
<rect class="o" x="90.76" y="316.5" width="2.0" height="23.5"/>
<rect class="y" x="93.64" y="324" width="2.0" height="16"/>
<rect class="o" x="96.53" y="325.5" width="2.0" height="14.5"/>
<rect class="o" x="99.42" y="334" width="2.0" height="6"/>
<rect class="y" x="102.31" y="333" width="2.0" height="7"/>
<rect class="y" x="105.19" y="327" width="2.0" height="13"/>
<rect class="y" x="108.08" y="321" width="2.0" height="19"/>
<rect class="o" x="110.97" y="327" width="2.0" height="13"/>
<rect class="o" x="113.85" y="326" width="2.0" height="14"/>
<rect class="y" x="116.74" y="314" width="2.0" height="26"/>
<rect class="o" x="119.63" y="331" width="2.0" height="9"/>
<rect class="y" x="122.51" y="331" width="2.0" height="9"/>
<rect class="y" x="125.4" y="315" width="2.0" height="25"/>
<rect class="y" x="128.29" y="277" width="2.0" height="63"/>
<rect class="y" x="131.18" y="294" width="2.0" height="46"/>
<rect class="o" x="134.06" y="306" width="2.0" height="34"/>
<rect class="y" x="136.95" y="273" width="2.0" height="67"/>
<rect class="o" x="139.84" y="319.5" width="2.0" height="20.5"/>
<rect class="o" x="142.72" y="296" width="2.0" height="44"/>
<rect class="y" x="145.61" y="292.5" width="2.0" height="47.5"/>
<rect class="o" x="148.5" y="295" width="2.0" height="45"/>
<rect class="o" x="151.38" y="309.5" width="2.0" height="30.5"/>
<rect class="y" x="154.27" y="312.5" width="2.0" height="27.5"/>
<rect class="y" x="157.16" y="293.5" width="2.0" height="46.5"/>
<rect class="y" x="160.05" y="329.5" width="2.0" height="10.5"/>
<rect class="y" x="162.93" y="319" width="2.0" height="21"/>
<rect class="y" x="165.82" y="302" width="2.0" height="38"/>
<rect class="o" x="168.71" y="301" width="2.0" height="39"/>
<rect class="o" x="171.59" y="314.5" width="2.0" height="25.5"/>
<rect class="y" x="174.48" y="318" width="2.0" height="22"/>
<rect class="o" x="177.37" y="318.5" width="2.0" height="21.5"/>
<rect class="o" x="180.26" y="331" width="2.0" height="9"/>
<rect class="y" x="183.14" y="326" width="2.0" height="14"/>
<rect class="o" x="186.03" y="326" width="2.0" height="14"/>
<rect class="y" x="188.92" y="326" width="2.0" height="14"/>
<rect class="o" x="191.8" y="317.5" width="2.0" height="22.5"/>
<rect class="y" x="194.69" y="322" width="2.0" height="18"/>
<rect class="y" x="197.58" y="330.5" width="2.0" height="9.5"/>
<rect class="y" x="200.46" y="335.5" width="2.0" height="4.5"/>
<rect class="o" x="203.35" y="333" width="2.0" height="7"/>
<rect class="o" x="206.24" y="316" width="2.0" height="24"/>
<rect class="y" x="209.13" y="322" width="2.0" height="18"/>
<rect class="y" x="212.01" y="325" width="2.0" height="15"/>
<rect class="o" x="214.9" y="326" width="2.0" height="14"/>
<rect class="y" x="217.79" y="318" width="2.0" height="22"/>
<rect class="y" x="220.67" y="330.5" width="2.0" height="9.5"/>
<rect class="y" x="223.56" y="332" width="2.0" height="8"/>
<rect class="o" x="226.45" y="323.5" width="2.0" height="16.5"/>
<rect class="o" x="229.33" y="324" width="2.0" height="16"/>
<rect class="y" x="232.22" y="308" width="2.0" height="32"/>
<rect class="o" x="235.11" y="318" width="2.0" height="22"/>
<rect class="o" x="238" y="313.5" width="2.0" height="26.5"/>
<rect class="y" x="240.88" y="332.5" width="2.0" height="7.5"/>
<rect class="y" x="243.77" y="317.5" width="2.0" height="22.5"/>
<rect class="o" x="246.66" y="277" width="2.0" height="63"/>
<rect class="y" x="249.54" y="312" width="2.0" height="28"/>
<rect class="o" x="252.43" y="279.5" width="2.0" height="60.5"/>
<rect class="y" x="255.32" y="313" width="2.0" height="27"/>
<rect class="o" x="258.21" y="312" width="2.0" height="28"/>
<rect class="o" x="261.09" y="325" width="2.0" height="15"/>
<rect class="y" x="263.98" y="320" width="2.0" height="20"/>
<rect class="o" x="266.87" y="317" width="2.0" height="23"/>
<rect class="y" x="269.75" y="323" width="2.0" height="17"/>
<rect class="o" x="272.64" y="323" width="2.0" height="17"/>
<rect class="o" x="275.53" y="329" width="2.0" height="11"/>
<rect class="y" x="278.41" y="335" width="2.0" height="5"/>
<rect class="o" x="281.3" y="332" width="2.0" height="8"/>
<rect class="o" x="284.19" y="333.5" width="2.0" height="6.5"/>
<rect class="o" x="287.08" y="314.5" width="2.0" height="25.5"/>
<rect class="o" x="289.96" y="305" width="2.0" height="35"/>
<rect class="o" x="292.85" y="318" width="2.0" height="22"/>
<rect class="o" x="295.74" y="324" width="2.0" height="16"/>
<rect class="o" x="298.62" y="318" width="2.0" height="22"/>
<rect class="y" x="301.51" y="332.5" width="2.0" height="7.5"/>
<rect class="y" x="304.4" y="331" width="2.0" height="9"/>
<rect class="o" x="307.28" y="322" width="2.0" height="18"/>
<rect class="y" x="310.17" y="326" width="2.0" height="14"/>
<rect class="y" x="313.06" y="326" width="2.0" height="14"/>
<rect class="o" x="315.95" y="323" width="2.0" height="17"/>
<rect class="o" x="318.83" y="328" width="2.0" height="12"/>
<rect class="y" x="321.72" y="332" width="2.0" height="8"/>
<rect class="y" x="324.61" y="331" width="2.0" height="9"/>
<rect class="o" x="327.49" y="326" width="2.0" height="14"/>
<rect class="o" x="330.38" y="327" width="2.0" height="13"/>
<rect class="o" x="333.27" y="326.5" width="2.0" height="13.5"/>
<rect class="o" x="336.15" y="312" width="2.0" height="28"/>
<rect class="y" x="339.04" y="318" width="2.0" height="22"/>
<rect class="o" x="341.93" y="327.5" width="2.0" height="12.5"/>
<rect class="y" x="344.82" y="325.5" width="2.0" height="14.5"/>
<rect class="y" x="347.7" y="315" width="2.0" height="25"/>
<rect class="o" x="350.59" y="323" width="2.0" height="17"/>
<rect class="y" x="353.48" y="327" width="2.0" height="13"/>
<rect class="o" x="356.36" y="325.5" width="2.0" height="14.5"/>
<rect class="y" x="359.25" y="327" width="2.0" height="13"/>
<rect class="y" x="362.14" y="331" width="2.0" height="9"/>
<rect class="o" x="365.03" y="322.5" width="2.0" height="17.5"/>
<rect class="y" x="367.91" y="315.5" width="2.0" height="24.5"/>
<rect class="o" x="370.8" y="321" width="2.0" height="19"/>
<rect class="o" x="373.69" y="304" width="2.0" height="36"/>
<rect class="o" x="376.57" y="314.5" width="2.0" height="25.5"/>
<rect class="y" x="379.46" y="314.5" width="2.0" height="25.5"/>
<rect class="o" x="382.35" y="326.5" width="2.0" height="13.5"/>
<rect class="o" x="385.23" y="326" width="2.0" height="14"/>
<rect class="o" x="388.12" y="328" width="2.0" height="12"/>
<rect class="y" x="391.01" y="323" width="2.0" height="17"/>
<rect class="y" x="393.9" y="327.5" width="2.0" height="12.5"/>
<rect class="y" x="396.78" y="324" width="2.0" height="16"/>
<rect class="y" x="399.67" y="321" width="2.0" height="19"/>
<rect class="o" x="402.56" y="331" width="2.0" height="9"/>
<rect class="o" x="405.44" y="332" width="2.0" height="8"/>
<rect class="o" x="408.33" y="329" width="2.0" height="11"/>
<rect class="y" x="411.22" y="329" width="2.0" height="11"/>
<rect class="y" x="414.1" y="328.5" width="2.0" height="11.5"/>
<rect class="y" x="416.99" y="322" width="2.0" height="18"/>
<rect class="o" x="419.88" y="327" width="2.0" height="13"/>
<rect class="o" x="422.77" y="333" width="2.0" height="7"/>
<rect class="o" x="425.65" y="333.5" width="2.0" height="6.5"/>
<rect class="o" x="428.54" y="324" width="2.0" height="16"/>
<rect class="o" x="431.43" y="326" width="2.0" height="14"/>
<rect class="y" x="434.31" y="329.5" width="2.0" height="10.5"/>
<rect class="y" x="437.2" y="326" width="2.0" height="14"/>
<rect class="o" x="440.09" y="319" width="2.0" height="21"/>
<rect class="y" x="442.97" y="333" width="2.0" height="7"/>
<rect class="o" x="445.86" y="334" width="2.0" height="6"/>
<rect class="o" x="448.75" y="328" width="2.0" height="12"/>
<rect class="y" x="451.64" y="326" width="2.0" height="14"/>
<rect class="o" x="454.52" y="329" width="2.0" height="11"/>
<rect class="y" x="457.41" y="334" width="2.0" height="6"/>
<rect class="y" x="460.3" y="327" width="2.0" height="13"/>
<rect class="y" x="463.18" y="331" width="2.0" height="9"/>
<rect class="y" x="466.07" y="317" width="2.0" height="23"/>
<rect class="o" x="468.96" y="318" width="2.0" height="22"/>
<rect class="o" x="471.85" y="328" width="2.0" height="12"/>
<rect class="o" x="474.73" y="326.5" width="2.0" height="13.5"/>
<rect class="y" x="477.62" y="331.5" width="2.0" height="8.5"/>
<rect class="o" x="480.51" y="330" width="2.0" height="10"/>
<rect class="o" x="483.39" y="337" width="2.0" height="3"/>
<rect class="o" x="486.28" y="334.5" width="2.0" height="5.5"/>
<rect class="y" x="489.17" y="332" width="2.0" height="8"/>
<rect class="y" x="492.05" y="331.5" width="2.0" height="8.5"/>
<rect class="o" x="494.94" y="326" width="2.0" height="14"/>
<rect class="o" x="497.83" y="329.5" width="2.0" height="10.5"/>
<rect class="y" x="500.72" y="330.5" width="2.0" height="9.5"/>
<rect class="o" x="503.6" y="337" width="2.0" height="3"/>
<rect class="o" x="506.49" y="335" width="2.0" height="5"/>
<rect class="y" x="509.38" y="332.5" width="2.0" height="7.5"/>
<rect class="o" x="512.26" y="332.5" width="2.0" height="7.5"/>
<rect class="o" x="515.15" y="326" width="2.0" height="14"/>
<rect class="o" x="518.04" y="320" width="2.0" height="20"/>
<rect class="o" x="520.92" y="319" width="2.0" height="21"/>
<rect class="y" x="523.81" y="333" width="2.0" height="7"/>
<rect class="o" x="526.7" y="332" width="2.0" height="8"/>
<rect class="o" x="529.59" y="318" width="2.0" height="22"/>
<rect class="y" x="532.47" y="314" width="2.0" height="26"/>
<rect class="o" x="535.36" y="326.5" width="2.0" height="13.5"/>
<rect class="o" x="538.25" y="327.5" width="2.0" height="12.5"/>
<rect class="y" x="541.13" y="324" width="2.0" height="16"/>
<rect class="y" x="544.02" y="334.5" width="2.0" height="5.5"/>
<rect class="y" x="546.91" y="329.5" width="2.0" height="10.5"/>
<rect class="o" x="549.79" y="326" width="2.0" height="14"/>
<rect class="o" x="552.68" y="323" width="2.0" height="17"/>
<rect class="y" x="555.57" y="328" width="2.0" height="12"/>
<rect class="y" x="558.46" y="327" width="2.0" height="13"/>
<rect class="y" x="561.34" y="309" width="2.0" height="31"/>
<rect class="o" x="564.23" y="334.5" width="2.0" height="5.5"/>
<rect class="o" x="567.12" y="332.5" width="2.0" height="7.5"/>
<rect class="y" x="570" y="329" width="2.0" height="11"/>
<rect class="y" x="572.89" y="328" width="2.0" height="12"/>
<rect class="y" x="575.78" y="327.5" width="2.0" height="12.5"/>
<rect class="y" x="578.67" y="326.5" width="2.0" height="13.5"/>
<rect class="y" x="581.55" y="320.5" width="2.0" height="19.5"/>
<rect class="y" x="584.44" y="331" width="2.0" height="9"/>
<rect class="o" x="587.33" y="334" width="2.0" height="6"/>
<rect class="o" x="590.21" y="332" width="2.0" height="8"/>
<rect class="y" x="593.1" y="330" width="2.0" height="10"/>
<rect class="o" x="595.99" y="332" width="2.0" height="8"/>
<rect class="o" x="598.87" y="329" width="2.0" height="11"/>
<rect class="y" x="601.76" y="332" width="2.0" height="8"/>
<rect class="y" x="604.65" y="332.5" width="2.0" height="7.5"/>
<rect class="o" x="607.54" y="328.5" width="2.0" height="11.5"/>
<rect class="y" x="610.42" y="319" width="2.0" height="21"/>
<rect class="o" x="613.31" y="326.5" width="2.0" height="13.5"/>
<rect class="o" x="616.2" y="321" width="2.0" height="19"/>
<rect class="y" x="619.08" y="317.5" width="2.0" height="22.5"/>
<rect class="y" x="621.97" y="329" width="2.0" height="11"/>
<rect class="o" x="624.86" y="335" width="2.0" height="5"/>
<rect class="o" x="627.74" y="335" width="2.0" height="5"/>
<rect class="y" x="630.63" y="326" width="2.0" height="14"/>
<rect class="y" x="633.52" y="325.5" width="2.0" height="14.5"/>
<rect class="o" x="636.41" y="327.5" width="2.0" height="12.5"/>
<rect class="y" x="639.29" y="331.5" width="2.0" height="8.5"/>
<rect class="o" x="642.18" y="321.5" width="2.0" height="18.5"/>
<rect class="y" x="645.07" y="331" width="2.0" height="9"/>
<rect class="y" x="647.95" y="323" width="2.0" height="17"/>
<rect class="y" x="650.84" y="320" width="2.0" height="20"/>
<rect class="o" x="653.73" y="325" width="2.0" height="15"/>
<rect class="y" x="656.62" y="329" width="2.0" height="11"/>
<rect class="o" x="659.5" y="331" width="2.0" height="9"/>
<rect class="y" x="662.39" y="322" width="2.0" height="18"/>
<rect class="o" x="665.28" y="331.5" width="2.0" height="8.5"/>
<rect class="y" x="668.16" y="332.5" width="2.0" height="7.5"/>
<rect class="o" x="671.05" y="327" width="2.0" height="13"/>
<rect class="o" x="673.94" y="325" width="2.0" height="15"/>
<rect class="o" x="676.82" y="330.5" width="2.0" height="9.5"/>
<rect class="y" x="679.71" y="330" width="2.0" height="10"/>
<rect class="y" x="682.6" y="323" width="2.0" height="17"/>
<rect class="y" x="685.49" y="336" width="2.0" height="4"/>
<rect class="o" x="688.37" y="335.5" width="2.0" height="4.5"/>
<rect class="o" x="691.26" y="331" width="2.0" height="9"/>
<rect class="y" x="694.15" y="328" width="2.0" height="12"/>
<rect class="o" x="697.03" y="326" width="2.0" height="14"/>
<rect class="o" x="699.92" y="329" width="2.0" height="11"/>
<rect class="o" x="702.81" y="327.5" width="2.0" height="12.5"/>
<rect class="y" x="705.69" y="333" width="2.0" height="7"/>
<rect class="y" x="708.58" y="335" width="2.0" height="5"/>
<rect class="o" x="711.47" y="329" width="2.0" height="11"/>
<rect class="o" x="714.36" y="331" width="2.0" height="9"/>
<rect class="y" x="717.24" y="326.5" width="2.0" height="13.5"/>
<rect class="o" x="720.13" y="330.5" width="2.0" height="9.5"/>
<rect class="y" x="723.02" y="333" width="2.0" height="7"/>
<rect class="o" x="725.9" y="336" width="2.0" height="4"/>
<rect class="y" x="728.79" y="336.5" width="2.0" height="3.5"/>
<rect class="y" x="731.68" y="323" width="2.0" height="17"/>
<rect class="y" x="734.56" y="330" width="2.0" height="10"/>
<rect class="o" x="737.45" y="330" width="2.0" height="10"/>
<rect class="y" x="740.34" y="323" width="2.0" height="17"/>
<rect class="o" x="743.23" y="328.5" width="2.0" height="11.5"/>
<rect class="y" x="746.11" y="335.5" width="2.0" height="4.5"/>
<rect class="o" x="749" y="337" width="2.0" height="3"/>
</g>
<line class="lvl" x1="60" x2="750" y1="235" y2="235"/>
<line class="lvl" x1="60" x2="750" y1="251" y2="251"/>
<text class="lvt" x="65" y="238.3">70</text>
<text class="lvt" x="65" y="254.3">30</text>
<path class="rsi" d="M60,247.5L62.89,247.7L65.77,247.7L68.66,246.6L71.55,243.8L74.44,246L77.32,245.8L80.21,245.7L83.1,247L85.98,250.5L88.87,252.3L91.76,253.8L94.64,253.2L97.53,253.4L100.42,251.3L103.31,242L106.19,247.3L109.08,246.5L111.97,244.4L114.85,244.3L117.74,245.8L120.63,246.6L123.51,248.5L126.4,249.7L129.29,248L132.18,246.7L135.06,246.6L137.95,246.7L140.84,245.5L143.72,245.4L146.61,246.5L149.5,245.2L152.38,246.2L155.27,242.5L158.16,244.3L161.05,244.6L163.93,244.7L166.82,243.3L169.71,242L172.59,241.8L175.48,242.2L178.37,242L181.25,241.7L184.14,244.5L187.03,246L189.92,246.2L192.8,245.8L195.69,243L198.58,245.5L201.46,244.8L204.35,244L207.24,244.2L210.12,247.8L213.01,247.3L215.9,248.8L220,243.5L223.5,245.8L226.5,242.5L229,241.5L232.5,242.7L235.5,242.2L239,243L242,242.6L245,241.8L248,242L251,241.7L254,241.5L257,239.5L260,236L263,235.8L266,235.7L269.5,235.2L272.5,235.3L276,236.5L279,235.5L282,236.7L285,236.8L288,235L291,234.8L293.5,236L296,238.2L298.5,238.8L301,238L303.5,236.5L306.5,236L309.5,232.5L312.5,233L315.5,232L318.5,232.8L321.5,235.2L324.5,234.5L328,235.2L331,235L334,235.7L337,236.2L340,233.5L343,235L346,234.5L349,233L352.8,231.5L355.5,237.8L358.5,237.5L361.5,236.5L365,236L368,236.8L371,238.5L373.5,240.5L376,242L378.5,242.8L381,242L384,241L387,240.8L390,241.5L393,242.5L395.8,246.2L399,242.5L402,241.2L405,241L408,237.8L411,237.5L414,239.5L417,242.7L420,242L423,242.7L426,242.8L429.5,241.3L432.5,244L436,243.5L439,243.7L442,245.2L445,246.5L448,247.8L451,242L453.5,241.5L456,240.8L458,240.5L461,241L464,241L467,240.5L469.5,239L472.5,241L475.8,243L479,239.5L482,238.8L485,241L488,240.8L491,239.7L494,241.2L497,240.5L500,238L503,234.5L506,233.5L509,233.5L512.5,232.7L516,232.5L519,235.8L522,235L525,234.8L528,236.5L531,237L534,237.8L536,238L538,237.5L540.5,235.5L543.5,237.5L546.5,238L550,239L553,238.7L556,237.3L559,239.5L562,239.7L565,239.8L568,243L571,246.2L574,247L577,244.8L580,243.5L583.5,244.5L586.5,243.5L589.5,240.5L593,241.5L596,241.8L599,238.8L602,239.5L605,238.2L608.2,235.2L611,241.5L613.5,242.5L616,242.5L620.5,242.5L623.5,244L626.8,247L629.8,245.2L633,247L635.8,242L639,243.3L642,245L645.3,247.5L648,245.8L651,246.2L654.2,244.8L657.5,248L660.5,247.3L663.5,247.8L666.5,247L669.5,244.8L672.5,244L676,244.7L679,245L682,245.5L685,244.5L688,243.3L691,244L694,241L696,240.8L698.5,239.5L701.5,239.2L704.5,239.5L707.5,240.5L710.5,240.2L713.5,238.5L716.5,239L719.5,238.5L722.2,241L725.5,240.8L728.2,241.5L731,244.8L734,246L737.2,244L740.5,248L744,247.5L747,247.3L750,247"/>
<text class="rsil" x="740" y="238" text-anchor="end">RSI</text>
<g class="ax">
<path class="dom" d="M54,70H60V222.500H54"/>
<line class="tk" x1="54" x2="60" y1="70" y2="70"/>
<text x="51.5" y="73.6" text-anchor="end">124 474 $</text>
<line class="tk" x1="54" x2="60" y1="100.5" y2="100.5"/>
<text x="51.5" y="104.1" text-anchor="end">114 481 $</text>
<line class="tk" x1="54" x2="60" y1="131" y2="131"/>
<text x="51.5" y="134.6" text-anchor="end">104 488 $</text>
<line class="tk" x1="54" x2="60" y1="161.5" y2="161.5"/>
<text x="51.5" y="165.1" text-anchor="end">94 494 $</text>
<line class="tk" x1="54" x2="60" y1="192" y2="192"/>
<text x="51.5" y="195.6" text-anchor="end">84 501 $</text>
<line class="tk" x1="54" x2="60" y1="222.5" y2="222.5"/>
<text x="51.5" y="226.1" text-anchor="end">74 508 $</text>
<path class="dom" d="M60,343.700V340H750V343.700"/>
<line class="tx" x1="60" x2="60" y1="340" y2="343.7"/>
<text x="60" y="356" text-anchor="middle">2025-02</text>
<line class="tx" x1="175.48" x2="175.48" y1="340" y2="343.7"/>
<text x="175.48" y="356" text-anchor="middle">2025-03</text>
<line class="tx" x1="290.96" x2="290.96" y1="340" y2="343.7"/>
<text x="290.96" y="356" text-anchor="middle">2025-04</text>
<line class="tx" x1="406.44" x2="406.44" y1="340" y2="343.7"/>
<text x="406.44" y="356" text-anchor="middle">2025-06</text>
<line class="tx" x1="519.04" x2="519.04" y1="340" y2="343.7"/>
<text x="519.04" y="356" text-anchor="middle">2025-07</text>
<line class="tx" x1="634.52" x2="634.52" y1="340" y2="343.7"/>
<text x="634.52" y="356" text-anchor="middle">2025-08</text>
<line class="tx" x1="750" x2="750" y1="340" y2="343.7"/>
<text x="750" y="356" text-anchor="middle">2025-09</text>
</g>
<text class="cap" x="60" y="380">График с техническими индикаторами</text>
</svg>
</body>
</html>
